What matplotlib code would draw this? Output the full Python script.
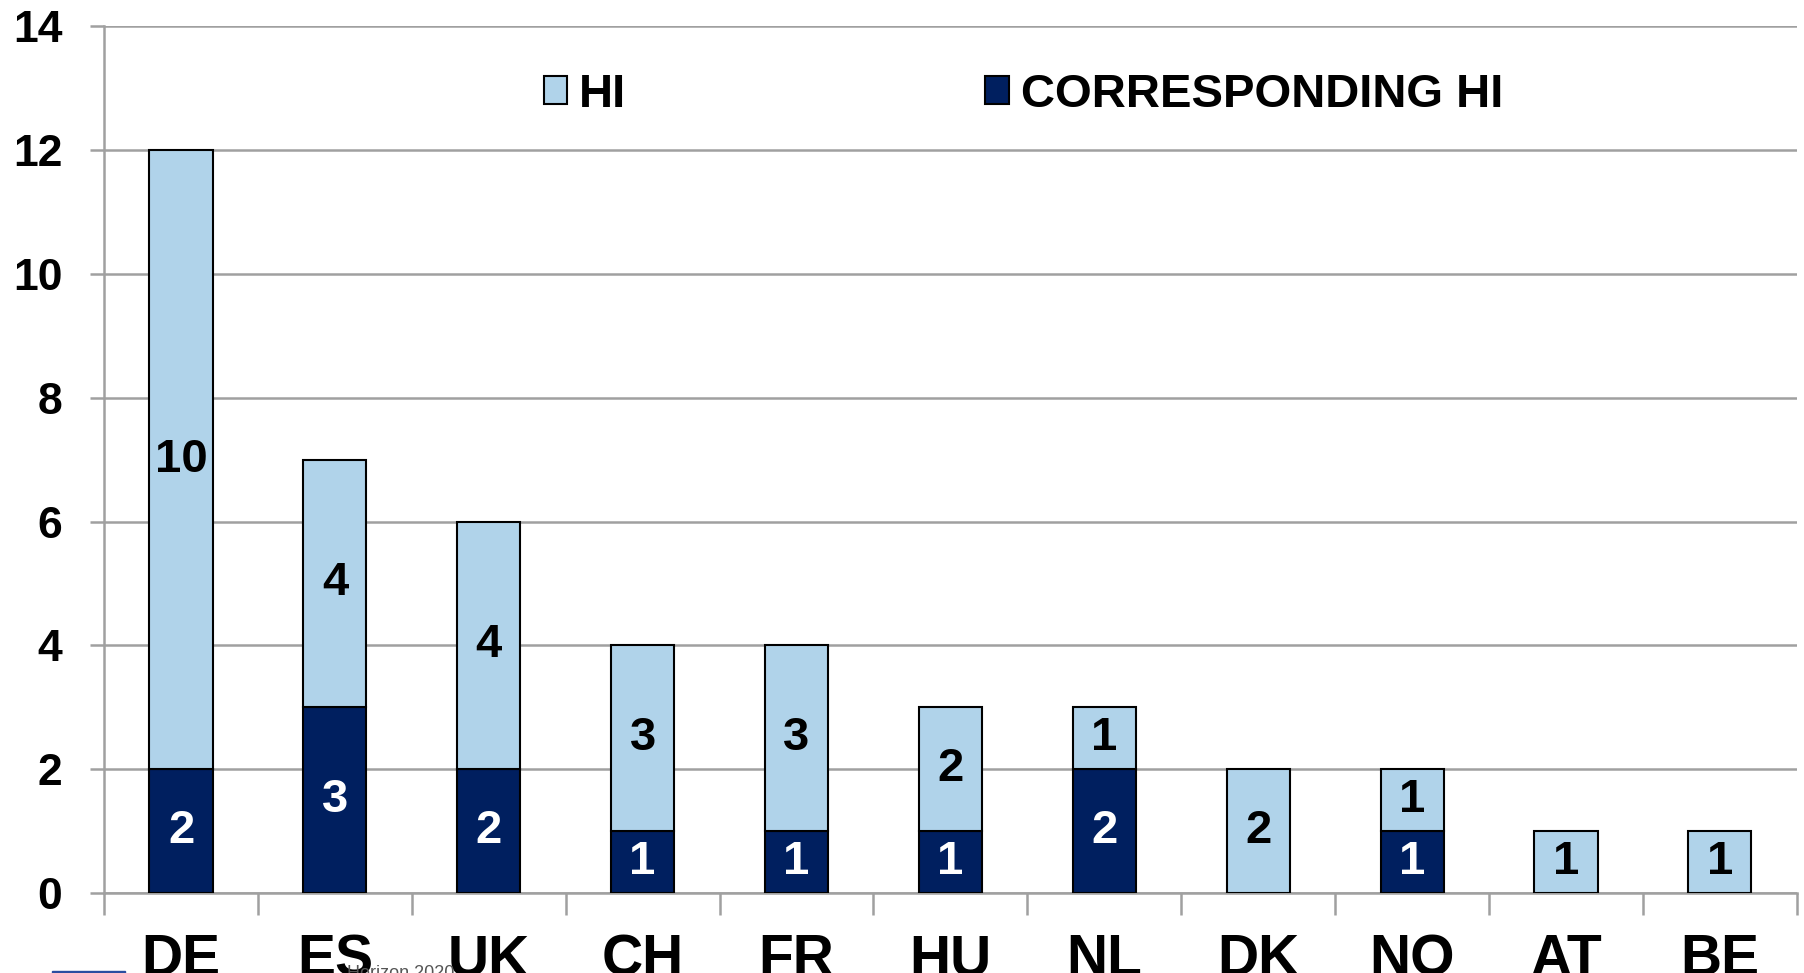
import numpy as np
import matplotlib.pyplot as plt
from matplotlib.patches import Patch, Rectangle

plt.rcParams['font.family'] = ['Liberation Sans', 'DejaVu Sans']
plt.rcParams['font.weight'] = 'bold'

# data
countries = ['DE', 'ES', 'UK', 'CH', 'FR', 'HU', 'NL', 'DK', 'NO', 'AT', 'BE']
corresponding = [2, 3, 2, 1, 1, 1, 2, 0, 1, 0, 0]
hi = [10, 4, 4, 3, 3, 2, 1, 2, 1, 1, 1]
yticks = [0, 2, 4, 6, 8, 10, 12, 14]

light = '#B0D3EA'
dark = '#001F5F'
grey = '#A0A0A0'

fig = plt.figure(figsize=(18.04, 9.73), dpi=100)
ax = fig.add_axes([0.0577, 0.0822, 0.9383, 0.8908])

x = np.arange(len(countries))
corr = np.array(corresponding)
hiv = np.array(hi)

ax.bar(x, corr, width=0.41, color=dark, edgecolor='black', linewidth=1.5, zorder=3)
ax.bar(x, hiv, width=0.41, bottom=corr, color=light, edgecolor='black', linewidth=1.5, zorder=3)

# labels inside segments
for i in range(len(countries)):
    if corr[i] > 0:
        ax.text(x[i], corr[i] / 2, str(corr[i]), ha='center', va='center',
                color='white', fontsize=34, fontweight='bold', zorder=4)
    if hiv[i] > 0:
        ax.text(x[i], corr[i] + hiv[i] / 2, str(hiv[i]), ha='center', va='center',
                color='black', fontsize=34, fontweight='bold', zorder=4)

ax.set_xlim(-0.5, len(countries) - 0.5)
ax.set_ylim(0, 14)
ax.set_yticks(yticks)
ax.set_yticklabels([str(v) for v in yticks], fontsize=32, fontweight='bold')
ax.yaxis.grid(True, color=grey, linewidth=1.8, zorder=0)
ax.tick_params(axis='y', length=10, width=1.8, color=grey, pad=20)

# category boundaries as major ticks, names on minor ticks
ax.set_xticks(np.arange(len(countries) + 1) - 0.5)
ax.set_xticklabels([])
ax.set_xticks(x, minor=True)
ax.set_xticklabels(countries, minor=True, fontsize=41, fontweight='bold')
ax.tick_params(axis='x', which='major', length=16, width=1.8, color=grey)
ax.tick_params(axis='x', which='minor', length=0, pad=29)

for s in ['top', 'right']:
    ax.spines[s].set_visible(False)
for s in ['left', 'bottom']:
    ax.spines[s].set_color(grey)
    ax.spines[s].set_linewidth(1.8)
ax.set_axisbelow(True)

handles = [Patch(facecolor=light, edgecolor='black', linewidth=1.5),
           Patch(facecolor=dark, edgecolor='black', linewidth=1.5)]
leg = ax.legend(handles, ['HI', 'CORRESPONDING HI'], ncol=2, frameon=False,
                loc='center', bbox_to_anchor=(0.543, 0.921),
                prop={'weight': 'bold', 'size': 34},
                handlelength=0.5, handleheight=0.55, handletextpad=0.25,
                columnspacing=7.6)

# bits of the footer logo cut off at the bottom edge
fig.patches.append(Rectangle((52 / 1804, 0), 73 / 1804, 2 / 973,
                             transform=fig.transFigure, color='#2A4DA0'))
fig.text(347 / 1804, -9 / 973, 'Horizon 2020', fontsize=13, color='#555555',
         fontweight='normal', va='bottom')

fig.savefig('out.png', dpi=100)
